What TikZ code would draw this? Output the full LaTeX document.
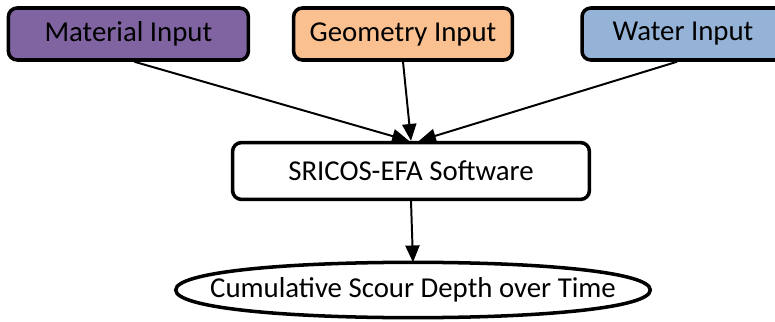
\documentclass[tikz,border=0pt]{standalone}
\usepackage{fontspec}
\setmainfont{Carlito}
\usetikzlibrary{arrows.meta}

\definecolor{matpurple}{HTML}{8064A2}
\definecolor{geoorange}{HTML}{FAC090}
\definecolor{watblue}{HTML}{95B3D7}

\begin{document}
\begin{tikzpicture}[
   inbox/.style={draw=black, line width=2.5pt, rounded corners=0.22cm,
      minimum height=1.3cm, inner sep=0pt, font=\fontsize{20.5}{24}\selectfont},
   flow/.style={-{Triangle[length=12pt,width=10pt]}, line width=1.4pt}
]

   \useasboundingbox (0,0) rectangle (19.375,8.025);

% Входные блоки
   \node[inbox, fill=matpurple, minimum width=6cm] (mat) at (3.21,7.175) {Material Input};
   \node[inbox, fill=geoorange, minimum width=5.47cm] (geo) at (10.075,7.175) {Geometry Input};
   \node[inbox, fill=watblue, minimum width=5.05cm] (wat) at (17.075,7.175) {Water Input};

% Программа
   \node[inbox, fill=white, minimum width=8.92cm, minimum height=1.42cm] (soft) at (10.275,3.75) {SRICOS-EFA Software};

% Результат (сплюснутый овал)
   \node[minimum width=11.85cm, minimum height=1.37cm, inner sep=0pt,
      font=\fontsize{20.5}{24}\selectfont] (res) at (10.325,0.775) {Cumulative Scour Depth over Time};
   \draw[line width=2.5pt] (res.west)
      .. controls +(0,0.45) and +(-3.2,0) .. (res.north)
      .. controls +(3.2,0) and +(0,0.45) .. (res.east)
      .. controls +(0,-0.45) and +(3.2,0) .. (res.south)
      .. controls +(-3.2,0) and +(0,-0.45) .. cycle;

% Стрелки
   \draw[flow] ([xshift=0.15cm]mat.south) -- ([xshift=-0.05cm]soft.north);
   \draw[flow] (geo.south) -- (soft.north);
   \draw[flow] ([xshift=-0.15cm]wat.south) -- ([xshift=0.2cm]soft.north);
   \draw[flow] (soft.south) -- (res.north);

\end{tikzpicture}
\end{document}
